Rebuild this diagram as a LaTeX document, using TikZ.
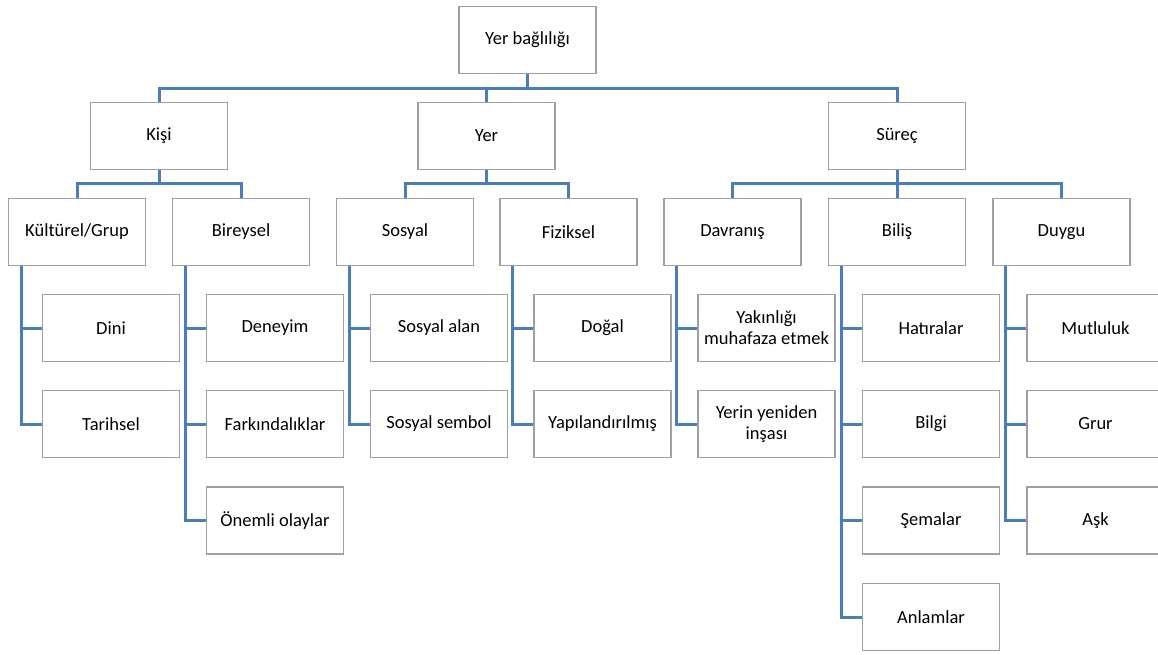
\documentclass[tikz,border=0pt]{standalone}
\usepackage{fontspec}
\setmainfont{Carlito}
\usepackage{tikz}
\usetikzlibrary{positioning, calc}
\definecolor{linkBlue}{RGB}{74, 126, 187}
\definecolor{boxGray}{RGB}{160, 160, 160}

\tikzset{
    box/.style={draw=boxGray, line width=1.3pt, fill=white, minimum width=137pt, minimum height=67pt, inner sep=2pt, align=center, font=\fontsize{18.5}{21}\selectfont},
    link/.style={draw=linkBlue, line width=3pt}
}

\begin{document}
\begin{tikzpicture}[x=1pt, y=-1pt]
    \useasboundingbox (0,0) rectangle (1158,654);

    % Root
    \node[box] (root) at (527.5, 40) {Yer bağlılığı};

    % First level
    \node[box] (kisi) at (159, 136) {Kişi};
    \node[box] (yer) at (486.5, 136) {Yer};
    \node[box] (surec) at (897, 136) {Süreç};

    % Second level
    \node[box] (kultur) at (77, 232) {Kültürel/Grup};
    \node[box] (bireysel) at (241, 232) {Bireysel};
    \node[box] (sosyal) at (405, 232) {Sosyal};
    \node[box] (fiziksel) at (568.5, 232) {Fiziksel};
    \node[box] (davranis) at (732.5, 232) {Davranış};
    \node[box] (bilis) at (897, 232) {Biliş};
    \node[box] (duygu) at (1061.5, 232) {Duygu};

    % Leaves
    \node[box] (dini) at (111, 328) {Dini};
    \node[box] (tarihsel) at (111, 424) {Tarihsel};
    \node[box] (deneyim) at (275, 328) {Deneyim};
    \node[box] (farkindalik) at (275, 424) {Farkındalıklar};
    \node[box] (onemli) at (275, 520.5) {Önemli olaylar};
    \node[box] (sosyalalan) at (439, 328) {Sosyal alan};
    \node[box] (sembol) at (439, 424) {Sosyal sembol};
    \node[box] (dogal) at (602.5, 328) {Doğal};
    \node[box] (yapi) at (602.5, 424) {Yapılandırılmış};
    \node[box] (yakinlik) at (766.5, 328) {Yakınlığı\\muhafaza etmek};
    \node[box] (insa) at (766.5, 424) {Yerin yeniden\\inşası};
    \node[box] (hatira) at (931, 328) {Hatıralar};
    \node[box] (bilgi) at (931, 424) {Bilgi};
    \node[box] (sema) at (931, 520.5) {Şemalar};
    \node[box] (anlam) at (931, 617) {Anlamlar};
    \node[box] (mutluluk) at (1095.5, 328) {Mutluluk};
    \node[box] (grur) at (1095.5, 424) {Grur};
    \node[box] (ask) at (1095.5, 520.5) {Aşk};

    % Top connectors
    \foreach \c in {kisi, yer, surec}
        \draw[link] (root.south) -- ++(0,14.5) -| (\c.north);

    % Second level connectors
    \foreach \p/\c in {kisi/kultur, kisi/bireysel, yer/sosyal, yer/fiziksel,
                       surec/davranis, surec/bilis, surec/duygu}
        \draw[link] (\p.south) -- ++(0,13) -| (\c.north);

    % Leaf connectors
    \foreach \p/\c in {kultur/dini, kultur/tarihsel,
                       bireysel/deneyim, bireysel/farkindalik, bireysel/onemli,
                       sosyal/sosyalalan, sosyal/sembol,
                       fiziksel/dogal, fiziksel/yapi,
                       davranis/yakinlik, davranis/insa,
                       bilis/hatira, bilis/bilgi, bilis/sema, bilis/anlam,
                       duygu/mutluluk, duygu/grur, duygu/ask}
        \draw[link] ([xshift=13.5pt]\p.south west) |- (\c.west);
\end{tikzpicture}
\end{document}
